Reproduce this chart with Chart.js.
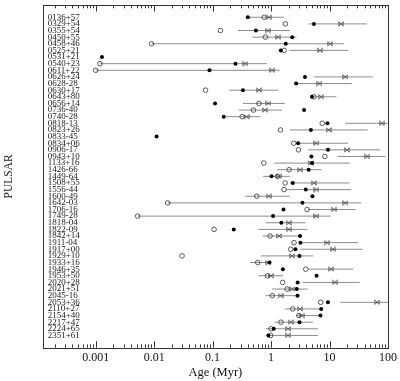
<!DOCTYPE html>
<html>
<head>
<meta charset="utf-8">
<script src="https://cdn.jsdelivr.net/npm/chart.js@4.4.1/dist/chart.umd.min.js"></script>
<style>
html,body{margin:0;padding:0;background:#fff;}
canvas{display:block;}
</style>
</head>
<body>
<canvas id="c" width="400" height="381"></canvas>
<script>
// ---- data (ages in Myr) ----
const pulsars = ['0136+57','0329+54','0355+54','0450+55','0458+46','0525+21','0531+21','0540+23','0611+22','0626+24',
'0628-28','0630+17','0643+80','0656+14','0736-40','0740-28','0818-13','0823+26','0833-45','0834+06',
'0906-17','0943+10','1133+16','1426-66','1449-64','1508+55','1556-44','1600-49','1642-03','1706-16',
'1749-28','1818-04','1822-09','1842+14','1911-04','1917+00','1929+10','1933+16','1946+35','1953+50',
'2020+28','2021+51','2045-16','2053+36','2110+27','2154+40','2217+47','2224+65','2351+61'];

const filledAge = [0.40,5.4,0.55,2.3,1.78,1.47,0.00128,0.246,0.0885,3.8,
2.68,0.33,5.0,0.11,3.67,0.155,9.2,4.8,0.011,2.9,
9.4,4.9,5.0,4.4,1.02,2.35,3.92,5.1,3.44,1.63,
1.08,1.5,0.23,3.13,3.18,2.61,3.06,0.94,1.59,6.0,
2.85,2.75,2.83,9.4,7.2,7.0,3.06,1.11,0.90];

const openAge = [0.76,1.76,0.136,0.80,0.009,1.67,null,0.00118,0.001,null,
null,0.0757,5.4,0.62,0.50,0.32,7.5,1.45,null,2.44,
2.94,8.3,0.75,2.03,1.29,1.74,1.67,0.57,0.017,4.13,
0.0052,null,0.106,0.96,2.47,2.17,0.030,0.59,3.92,0.87,
1.58,1.88,1.05,7.07,2.35,2.98,1.47,1.0,0.98];

const crossAge = [0.92,15.7,0.89,1.32,10.2,6.9,null,0.365,1.04,18.7,
6.7,0.62,7.2,0.90,0.79,0.38,79,9.6,null,5.97,
19.9,44,4.77,3.13,1.37,5.37,5.97,0.91,18.7,11.9,
5.97,2.0,2.03,1.37,8.96,11.5,2.29,0.90,10.6,0.99,
12.3,2.32,1.45,65,3.13,3.35,2.17,1.95,1.95];

const rangeLo = [0.42,4.4,0.27,0.48,0.009,2.09,null,0.00118,0.001,5.4,
2.65,0.19,4.9,0.33,0.28,0.17,18.4,2.09,null,2.7,
4.3,13.7,1.13,1.27,0.73,2.09,1.83,0.355,0.017,4.3,
0.0052,0.81,0.60,0.72,3.1,3.18,0.67,0.44,4.3,0.61,
3.44,1.04,0.80,15.3,1.71,2.7,1.14,0.81,0.81];

const rangeHi = [1.65,43.6,2.09,2.72,17.7,20.8,null,0.85,1.41,55,
23.9,1.32,13.1,1.71,1.54,0.66,100,45,null,20.8,
74,90,22.3,7.3,2.09,22,23.6,2.09,35,27.7,
10.4,3.87,4.2,3.18,30.7,36.6,5.3,0.99,25.3,1.6,
32.8,4.2,3.1,100,7.3,7.3,5.2,6.35,6.35];

const xMajorTicks = [0.001,0.01,0.1,1,10,100];
const xTickLabels = ['0.001','0.01','0.1','1','10','100'];
const xMin = 1.24e-4, xMax = 100;

// ---- build datasets ----
function pts(arr){ const o=[]; arr.forEach((v,i)=>{ if(v!==null) o.push({x:v,y:i}); }); return o; }
const segs = [];
rangeLo.forEach((lo,i)=>{ if(lo!==null && rangeHi[i]!==null){ segs.push({x:lo,y:i},{x:rangeHi[i],y:i},{x:null,y:i}); }});

// bow-tie cross marker
const crossImg = document.createElement('canvas');
crossImg.width = 6; crossImg.height = 6;
(function(){
  const g = crossImg.getContext('2d');
  g.strokeStyle = '#555'; g.lineWidth = 0.9;
  g.beginPath();
  g.moveTo(0.8,0.8); g.lineTo(5.2,5.2);
  g.moveTo(5.2,0.8); g.lineTo(0.8,5.2);
  g.moveTo(0.8,0.8); g.lineTo(0.8,5.2);
  g.moveTo(5.2,0.8); g.lineTo(5.2,5.2);
  g.stroke();
})();

// all minor+major tick positions for log axis
const allXTicks = [];
for (let e=-4; e<=2; e++){
  for (let k=1;k<=9;k++){
    const v = k*Math.pow(10,e);
    if (v>=xMin*0.999 && v<=xMax*1.0001) allXTicks.push(v);
  }
}
function isMajor(v){ return xMajorTicks.some(m=>Math.abs(Math.log10(v)-Math.log10(m))<1e-6); }

const framePlugin = {
  id:'frame',
  afterDraw(chart){
    const {ctx, chartArea:a} = chart;
    const xs = chart.scales.x;
    ctx.save();
    ctx.strokeStyle = '#333';
    ctx.lineWidth = 1;
    ctx.strokeRect(Math.round(a.left)+0.5, Math.round(a.top)+0.5, Math.round(a.right-a.left), Math.round(a.bottom-a.top));
    ctx.beginPath();
    xs.ticks.forEach(t=>{
      const px = Math.round(xs.getPixelForValue(t.value))+0.5;
      const len = isMajor(t.value) ? 6.5 : 3.3;
      ctx.moveTo(px, a.bottom); ctx.lineTo(px, a.bottom-len);
      ctx.moveTo(px, a.top); ctx.lineTo(px, a.top+len);
    });
    ctx.stroke();
    ctx.restore();
  }
};

new Chart(document.getElementById('c'), {
  type:'scatter',
  data:{ datasets:[
    { data: pts(filledAge), pointStyle:'circle', pointRadius:2, backgroundColor:'#000', borderColor:'#000', borderWidth:0 },
    { data: pts(openAge), pointStyle:'circle', pointRadius:2.3, backgroundColor:'rgba(255,255,255,0)', borderColor:'#333', borderWidth:0.8 },
    { data: pts(crossAge), pointStyle:crossImg, pointRadius:3 },
    { data: segs, showLine:true, spanGaps:false, borderColor:'#8c8c8c', borderWidth:1, pointRadius:0 }
  ]},
  options:{
    responsive:false, animation:false, events:[],
    layout:{ padding:{ top:3.5, right:12, left:0, bottom:0 } },
    plugins:{ legend:{display:false}, tooltip:{enabled:false} },
    scales:{
      x:{
        type:'logarithmic', position:'bottom', min:xMin, max:xMax,
        grid:{display:false, drawTicks:false}, border:{display:false},
        afterBuildTicks: s => { s.ticks = allXTicks.map(v=>({value:v, major:isMajor(v)})); },
        afterFit: s => { s.height = 33.3; s.paddingLeft = 0; s.paddingRight = 0; },
        ticks:{ autoSkip:false, maxRotation:0, padding:3, color:'#111',
          font:{family:'Liberation Serif', size:12},
          callback:(v)=>{ const i = xMajorTicks.findIndex(m=>Math.abs(Math.log10(v)-Math.log10(m))<1e-6); return i>=0 ? xTickLabels[i] : ''; } },
        title:{ display:true, text:'Age (Myr)', color:'#111', font:{family:'Liberation Serif', size:12.5}, padding:{top:0,bottom:0.5} }
      },
      y:{
        type:'linear', position:'left', reverse:true, min:-1.85, max:49.85,
        grid:{display:false, drawTicks:false}, border:{display:false},
        afterBuildTicks: s => { s.ticks = pulsars.map((_,i)=>({value:i})); },
        afterFit: s => { s.width = 42.7; s.paddingTop = 0; s.paddingBottom = 0; },
        ticks:{ autoSkip:false, mirror:true, padding:5, color:'#222',
          font:{family:'Liberation Serif', size:9}, callback:(v)=>pulsars[v] },
        title:{ display:true, text:'PULSAR', color:'#222', font:{family:'Liberation Serif', size:11.5}, padding:{top:2.1,bottom:0} }
      }
    }
  },
  plugins:[framePlugin]
});
</script>
</body>
</html>
